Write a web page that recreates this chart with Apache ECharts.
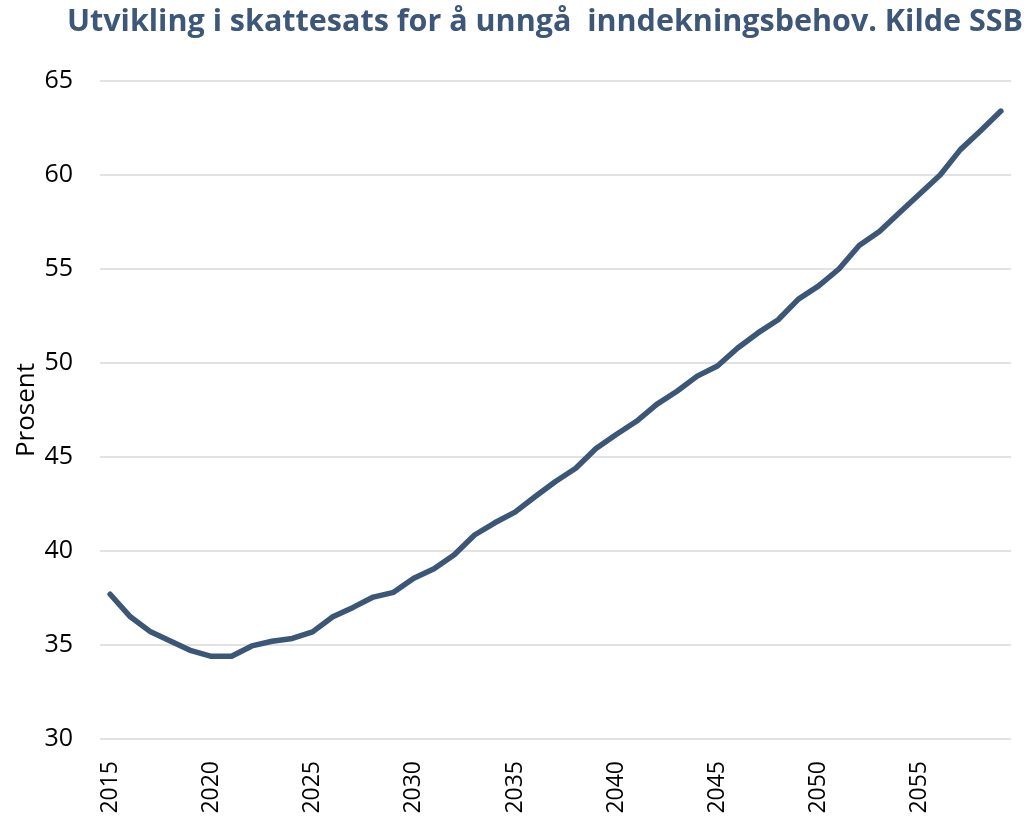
<!DOCTYPE html>
<html>
<head>
<meta charset="utf-8">
<script src="https://cdn.jsdelivr.net/npm/echarts@6/dist/echarts.min.js"></script>
<style>html,body{margin:0;padding:0;background:#fff;}#c{width:1026px;height:817px;}</style>
</head>
<body>
<div id="c"></div>
<script>
const years = [];
for (let y = 2015; y <= 2059; y++) years.push(String(y));
const values = [37.7, 36.5, 35.7, 35.2, 34.7, 34.4, 34.4, 34.95, 35.2, 35.35, 35.7,
  36.5, 37.0, 37.55, 37.8, 38.55, 39.05, 39.8, 40.85, 41.5, 42.07,
  42.9, 43.7, 44.4, 45.45, 46.2, 46.9, 47.8, 48.5, 49.3, 49.84,
  50.8, 51.6, 52.3, 53.4, 54.1, 55.0, 56.25, 57.0, 58.0, 59.0,
  60.0, 61.35, 62.35, 63.4];
const yTicks = [30, 35, 40, 45, 50, 55, 60, 65];
const title = 'Utvikling i skattesats for å unngå  inndekningsbehov. Kilde SSB';
const yName = 'Prosent';

const chart = echarts.init(document.getElementById('c'), null, {renderer: 'canvas'});
chart.setOption({
  animation: false,
  backgroundColor: '#ffffff',
  title: {
    text: title,
    left: 540, top: 2, textAlign: 'center',
    textStyle: {fontFamily: 'Open Sans', fontWeight: 'bold', fontSize: 30.5, color: '#3D5778'}
  },
  grid: {left: 100, right: 15, top: 81, bottom: 78},
  xAxis: {
    type: 'category',
    data: years,
    boundaryGap: true,
    axisLine: {show: false},
    axisTick: {show: false},
    axisLabel: {interval: 4, rotate: 90, margin: 22, fontFamily: 'Open Sans', fontSize: 23, color: '#000'},
    splitLine: {show: false}
  },
  yAxis: {
    type: 'value',
    min: yTicks[0], max: yTicks[yTicks.length - 1], interval: 5,
    name: yName, nameLocation: 'middle', nameGap: 60, nameRotate: 90,
    nameMoveOverlap: false,
    nameTextStyle: {fontFamily: 'Open Sans', fontSize: 26, color: '#000'},
    axisLine: {show: false},
    axisTick: {show: false},
    axisLabel: {margin: 27, fontFamily: 'Open Sans', fontSize: 25, color: '#000'},
    splitLine: {lineStyle: {color: '#D9D9D9', width: 1.5}}
  },
  series: [{
    type: 'line',
    data: values,
    showSymbol: false,
    lineStyle: {color: '#3B5677', width: 5.5, cap: 'round', join: 'round'}
  }]
});
</script>
</body>
</html>
